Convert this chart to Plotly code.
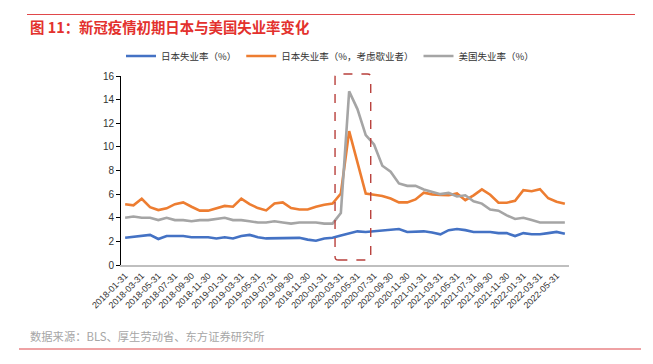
import plotly.graph_objects as go

dates = [
    "2018-01-31", "2018-02-28", "2018-03-31", "2018-04-30", "2018-05-31", "2018-06-30",
    "2018-07-31", "2018-08-31", "2018-09-30", "2018-10-31", "2018-11-30", "2018-12-31",
    "2019-01-31", "2019-02-28", "2019-03-31", "2019-04-30", "2019-05-31", "2019-06-30",
    "2019-07-31", "2019-08-31", "2019-09-30", "2019-10-31", "2019-11-30", "2019-12-31",
    "2020-01-31", "2020-02-29", "2020-03-31", "2020-04-30", "2020-05-31", "2020-06-30",
    "2020-07-31", "2020-08-31", "2020-09-30", "2020-10-31", "2020-11-30", "2020-12-31",
    "2021-01-31", "2021-02-28", "2021-03-31", "2021-04-30", "2021-05-31", "2021-06-30",
    "2021-07-31", "2021-08-31", "2021-09-30", "2021-10-31", "2021-11-30", "2021-12-31",
    "2022-01-31", "2022-02-28", "2022-03-31", "2022-04-30", "2022-05-31", "2022-06-30",
]

japan_unemp = [
    2.3, 2.4, 2.45, 2.55, 2.2, 2.45, 2.45, 2.45, 2.35, 2.35, 2.35, 2.25,
    2.35, 2.25, 2.45, 2.55, 2.35, 2.25, 2.25, 2.25, 2.3, 2.3, 2.15, 2.05,
    2.25, 2.3, 2.5, 2.7, 2.85, 2.8, 2.85, 2.9, 2.95, 3.05, 2.8, 2.8,
    2.85, 2.75, 2.6, 2.95, 3.05, 2.95, 2.8, 2.8, 2.8, 2.7, 2.7, 2.45,
    2.7, 2.6, 2.6, 2.7, 2.8, 2.65,
]

japan_unemp_furlough = [
    5.15, 5.05, 5.6, 4.9, 4.65, 4.8, 5.15, 5.3, 4.93, 4.6, 4.6, 4.8,
    5.0, 4.93, 5.62, 5.15, 4.82, 4.62, 5.2, 5.3, 4.82, 4.7, 4.7, 4.93,
    5.1, 5.2, 6.05, 11.33, 8.8, 6.05, 5.95, 5.85, 5.63, 5.3, 5.3, 5.55,
    6.12, 5.98, 5.94, 5.9, 6.06, 5.49, 5.9, 6.4, 5.95, 5.27, 5.27, 5.44,
    6.34, 6.25, 6.42, 5.65, 5.35, 5.18,
]

us_unemp = [
    4.0, 4.1, 4.0, 4.0, 3.8, 4.0, 3.8, 3.8, 3.7, 3.8, 3.8, 3.9,
    4.0, 3.8, 3.8, 3.7, 3.6, 3.6, 3.7, 3.6, 3.5, 3.6, 3.6, 3.6,
    3.5, 3.5, 4.4, 14.7, 13.2, 11.0, 10.2, 8.4, 7.9, 6.9, 6.7, 6.7,
    6.4, 6.2, 6.0, 6.1, 5.8, 5.9, 5.4, 5.2, 4.7, 4.6, 4.2, 3.9,
    4.0, 3.8, 3.6, 3.6, 3.6, 3.6,
]

series_names = ["日本失业率（%）", "日本失业率（%，考虑歇业者）", "美国失业率（%）"]
series_colors = ["#4472C4", "#ED7D31", "#A5A5A5"]

y_ticks = [0, 2, 4, 6, 8, 10, 12, 14, 16]
x_idx = list(range(len(dates)))
tick_idx = x_idx[::2]
tick_text = dates[::2]

FONT = "Liberation Sans, Arial, Noto Sans CJK SC, sans-serif"
CJK = "Noto Sans CJK SC, Liberation Sans, sans-serif"

# page body has an 8px default margin; work in screen pixels and offset
OFF = 8
W, H = 653 - OFF, 364 - OFF
# plot area in screen pixels
L, R, T, B = 121, 569, 76, 265


def px_x(px):
    return (px - L) / (R - L)


def px_y(py):
    return (B - py) / (B - T)


fig = go.Figure()
for name, vals, col in zip(series_names,
                           [japan_unemp, japan_unemp_furlough, us_unemp],
                           series_colors):
    fig.add_trace(go.Scatter(
        x=x_idx, y=vals, mode="lines", name=name,
        line=dict(color=col, width=2.6),
        hoverinfo="skip",
    ))

# dashed rounded highlight box (x in data index, y in paper)
x0, x1 = 25.3, 29.6
y0, y1 = px_y(260), px_y(74)
rx, ry = 0.4, 3 / (B - T)
path = (f"M {x0+rx},{y0} L {x1-rx},{y0} Q {x1},{y0} {x1},{y0+ry} "
        f"L {x1},{y1-ry} Q {x1},{y1} {x1-rx},{y1} L {x0+rx},{y1} "
        f"Q {x0},{y1} {x0},{y1-ry} L {x0},{y0+ry} Q {x0},{y0} {x0+rx},{y0} Z")

shapes = [
    dict(type="path", xref="x", yref="paper", path=path,
         line=dict(color="#B8403C", width=1.4, dash="dash")),
    dict(type="line", xref="paper", yref="paper",
         x0=px_x(27), x1=px_x(635), y0=px_y(14.5), y1=px_y(14.5),
         line=dict(color="#E0474A", width=1.2)),
    dict(type="line", xref="paper", yref="paper",
         x0=px_x(19), x1=px_x(641), y0=px_y(349), y1=px_y(349),
         line=dict(color="#E0474A", width=1.2)),
]

annotations = [
    dict(text="<b>图 11：新冠疫情初期日本与美国失业率变化</b>",
         xref="paper", yref="paper", x=px_x(28), y=px_y(27),
         xanchor="left", yanchor="middle", showarrow=False,
         font=dict(family=CJK, size=14.4, color="#E3312D")),
    dict(text="数据来源：BLS、厚生劳动省、东方证券研究所",
         xref="paper", yref="paper", x=px_x(28), y=px_y(336),
         xanchor="left", yanchor="middle", showarrow=False,
         font=dict(family=CJK, size=11.3, color="#A6A6A6")),
]

fig.update_layout(
    width=W, height=H,
    margin=dict(l=L - OFF, r=W - (R - OFF), t=T - OFF, b=H - (B - OFF),
                autoexpand=False),
    paper_bgcolor="white", plot_bgcolor="white",
    font=dict(family=FONT, color="#333333"),
    showlegend=True,
    legend=dict(
        orientation="h", xref="paper", yref="paper",
        x=px_x(330), y=px_y(56), xanchor="center", yanchor="middle",
        font=dict(family=CJK, size=9.5, color="#333333"),
        itemwidth=30, tracegroupgap=0,
        bgcolor="rgba(0,0,0,0)",
    ),
    xaxis=dict(
        range=[-0.5, len(dates) - 0.5], automargin=False,
        tickmode="array", tickvals=tick_idx, ticktext=tick_text,
        tickangle=-45, tickfont=dict(size=9, color="#333333"),
        showline=True, linecolor="#BFBFBF", linewidth=2,
        showgrid=False, zeroline=False, ticks="",
    ),
    yaxis=dict(
        range=[0, 16], automargin=False, tickmode="array", tickvals=y_ticks,
        tickfont=dict(size=10, color="#333333"),
        showline=True, linecolor="#000000", linewidth=1,
        ticks="outside", ticklen=4, tickcolor="#000000",
        showgrid=False, zeroline=False,
    ),
    shapes=shapes,
    annotations=annotations,
)

fig.write_html("out.html")
